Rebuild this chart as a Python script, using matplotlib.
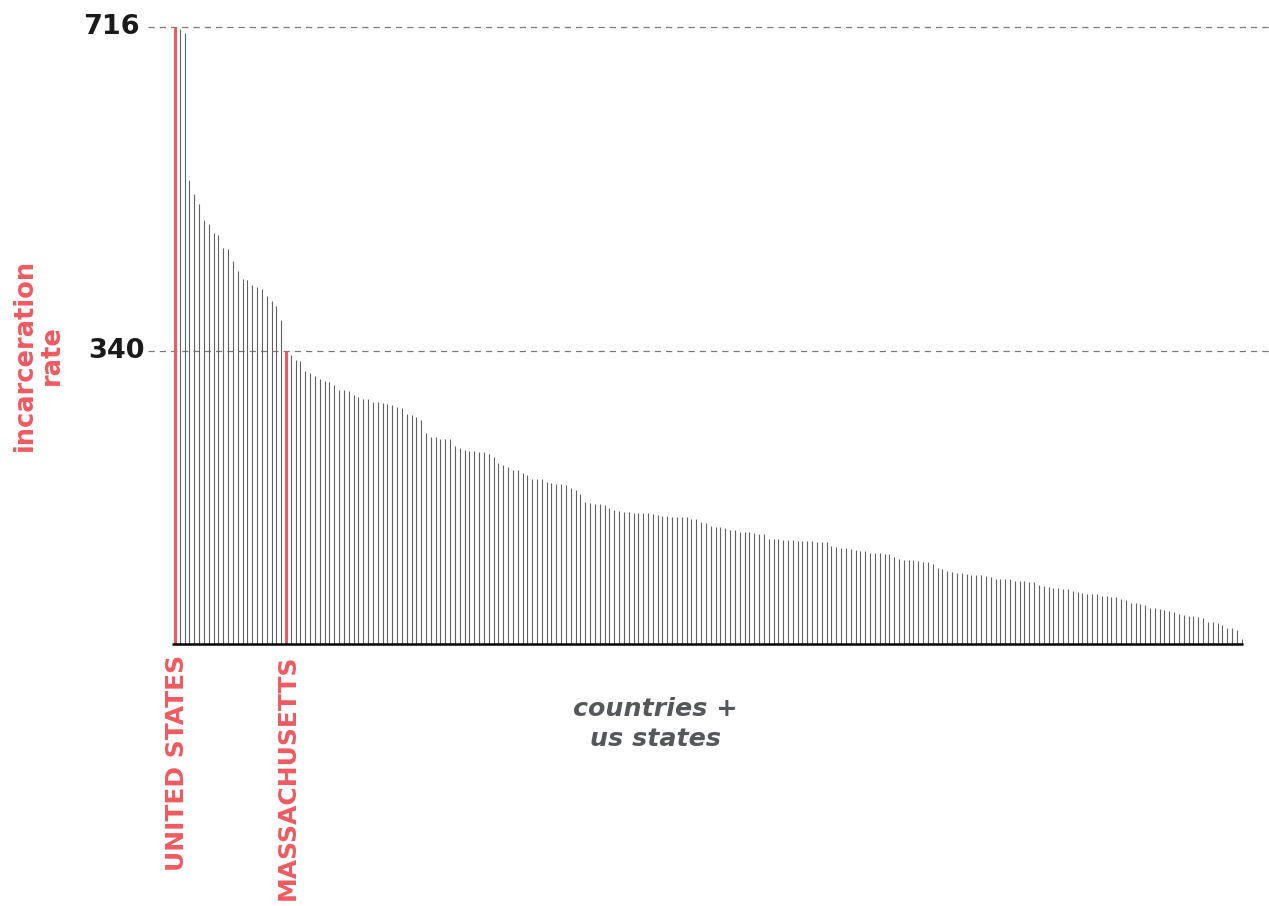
import matplotlib
matplotlib.use("Agg")
import matplotlib.pyplot as plt
import matplotlib.transforms as mtransforms

# ---- data (incarceration rate per 100k, countries + US states, sorted) ----
labels_highlight = ["UNITED STATES", "MASSACHUSETTS"]
highlight_idx = [0, 23]

rates_a = [716, 714, 709, 539, 522, 511, 492, 487, 477, 475, 460, 458, 445, 433,
           424, 422, 417, 414, 412, 404, 398, 392, 376, 340, 335, 330, 329, 317,
           314, 311, 307]
rates_b = [305, 304, 301, 295, 295, 294, 289, 287, 284, 284, 281, 281, 280, 278,
           277, 275, 274, 267, 266, 264, 260, 245, 240, 240, 238, 238, 238, 230,
           228, 225, 224, 224, 223]
rates_c = [223, 220, 217, 210, 208, 205, 202, 202, 199, 196, 192, 191, 191, 188,
           187, 186, 186, 185, 181, 179, 174, 165, 164, 162, 162, 161, 158, 155,
           154, 153, 153]
rates_d = [152, 152, 152, 152, 151, 150, 149, 148, 147, 147, 147, 147, 145, 145,
           142, 140, 137, 136, 136, 135, 132, 132, 130, 130, 130, 129, 128, 128,
           122, 122, 122, 121, 121, 121, 120, 120]
rates_e = [119, 119, 118, 118, 118, 114, 112, 111, 111, 110, 109, 108, 108, 106,
           106, 106, 105, 105, 101, 99, 98, 98, 97, 96, 95, 95, 93, 88, 87, 85,
           83, 82, 82]
rates_f = [81, 80, 80, 80, 79, 78, 76, 76, 76, 75, 73, 73, 73, 72, 72, 69, 67, 66,
           65, 65, 64, 64, 61, 60, 59, 58, 58, 58, 56, 56, 55]
rates_g = [54, 52, 51, 48, 48, 47, 45, 42, 42, 41, 39, 38, 37, 35, 34, 33, 32, 31,
           30, 26, 26, 24, 22, 19, 18, 16, 6]

rates = rates_a + rates_b + rates_c + rates_d + rates_e + rates_f + rates_g
ref_values = [716, 340]
ref_labels = ["716", "340"]

RED = "#f05a61"
GRAY = "#606163"

fig = plt.figure(figsize=(12.69, 9.06), dpi=100)
W, H = 1269, 906
ax_left, ax_right = 148, 1269
ax_top, ax_bottom = 20, 644
ax = fig.add_axes([ax_left / W, (H - ax_bottom) / H,
                   (ax_right - ax_left) / W, (ax_bottom - ax_top) / H])

n = len(rates)
xs = list(range(n))
px_per_bar = (1241.7 - 175) / (n - 1)
ax.set_xlim(-(175 - ax_left) / px_per_bar, (n - 1) + (ax_right - 1241.7) / px_per_bar)
px_per_unit = (351 - 27) / (716 - 340)
ax.set_ylim(0, (ax_bottom - ax_top) / px_per_unit)

# reference dashed lines
for v in ref_values:
    ax.axhline(v, color="#7a7a7a", lw=0.9, ls=(0, (5, 4)), zorder=1)

normal_x = [x for x in xs if x not in highlight_idx]
normal_y = [rates[x] for x in normal_x]
ax.vlines(normal_x, 0, normal_y, color=GRAY, lw=0.8, zorder=2)
ax.vlines(highlight_idx, 0, [rates[i] for i in highlight_idx], color=RED, lw=2.2, zorder=3)

# baseline
ax.plot([-0.6, n - 1 + 0.2], [0, 0], color="black", lw=1.8, zorder=4,
        solid_capstyle="butt", clip_on=False)

for s in ax.spines.values():
    s.set_visible(False)
ax.set_xticks([])
ax.set_yticks([])

# reference value labels (x in figure coords, y in data)
blend = mtransforms.blended_transform_factory(fig.transFigure, ax.transData)
tick_right_px = [140, 145]
for v, lab, rx in zip(ref_values, ref_labels, tick_right_px):
    ax.text(rx / W, v, lab, transform=blend, ha="right", va="center",
            fontsize=19.5, fontweight="bold", color="#1a1a1a", clip_on=False)

# highlight labels
for i, lab in zip(highlight_idx, labels_highlight):
    ax.text(i + 0.4, -11 / px_per_unit, lab, rotation=90, ha="center", va="top",
            fontsize=18, fontweight="bold", color=RED, clip_on=False)

fig.text(38 / W, 1 - 355 / H, "incarceration\nrate", rotation=90, ha="center",
         va="center", fontsize=18.5, fontweight="bold", color=RED,
         multialignment="center", linespacing=1.05)

fig.text(655 / W, 1 - 724 / H, "countries +\nus states", ha="center", va="center",
         fontsize=18.3, fontweight="bold", fontstyle="italic", color="#55575b",
         multialignment="center", linespacing=1.3)

fig.savefig("out.png", dpi=100)
